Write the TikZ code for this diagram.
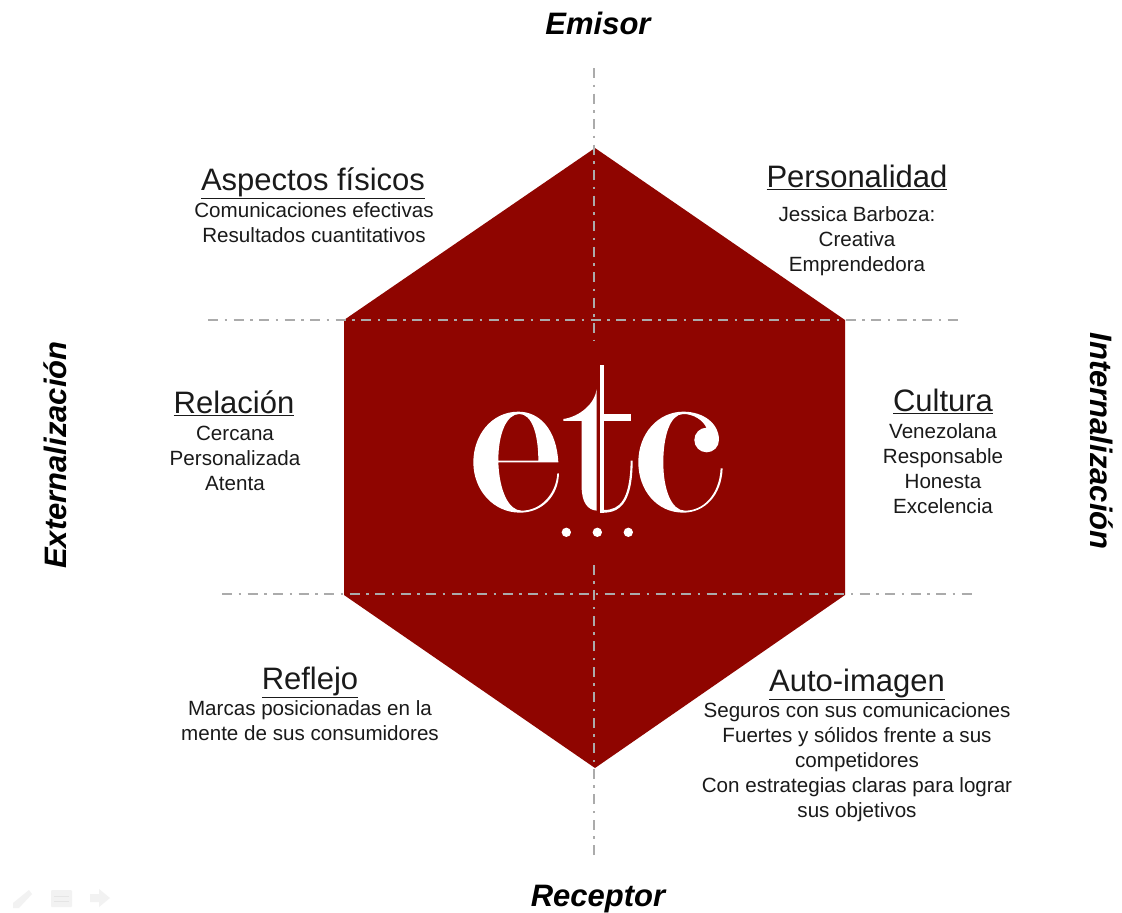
\documentclass[tikz,border=0pt]{standalone}
\usepackage{fontspec}
\setmainfont{Liberation Sans}
\definecolor{hexred}{HTML}{8F0500}
\definecolor{axisgrey}{HTML}{ABABAB}
\definecolor{bodytext}{HTML}{1A1A1A}
\tikzset{
  axis/.style={axisgrey,line width=1.7pt,dash pattern=on 10pt off 6.5pt on 2.5pt off 6.5pt},
  heading/.style={font=\fontsize{31}{34}\selectfont,text=bodytext,inner sep=0pt,anchor=base},
  body/.style={font=\fontsize{20.6}{25}\selectfont,text=bodytext,align=center,inner sep=0pt,anchor=north},
  pole/.style={font=\fontsize{31}{34}\selectfont\bfseries\itshape,text=black,inner sep=0pt},
  logo/.style={fill=white,draw=none},
  faint/.style={fill=black!5,draw=none}
}
\begin{document}
\begin{tikzpicture}[x=1pt,y=-1pt]
\useasboundingbox (0,0) rectangle (1122,913);
\fill[white] (0,0) rectangle (1122,913);
\coordinate (htop) at (595,148);
\coordinate (hur) at (845,320);
\coordinate (hlr) at (845,595);
\coordinate (hbot) at (595,768);
\coordinate (hll) at (344,595);
\coordinate (hul) at (344,320);
\fill[hexred] (htop) -- (hur) -- (hlr) -- (hbot) -- (hll) -- (hul) -- cycle;
\coordinate (vtop) at (594,68);
\coordinate (vgapa) at (594,341);
\coordinate (vgapb) at (594,563);
\coordinate (vbot) at (594,855);
\coordinate (u1) at (208,320);
\coordinate (u2) at (960,320);
\coordinate (l1) at (222,594);
\coordinate (l2) at (972,594);
\draw[axis] (vtop) -- (vgapa);
\draw[axis] (vbot) -- (vgapb);
\draw[axis] (u1) -- (u2);
\draw[axis] (l1) -- (l2);
% logo
\begin{scope}[shift={(440,340)},x=0.3333pt,y=-0.3333pt]
\fill[logo,even odd rule] (355,367) .. controls (350,270) and (300,215) .. (235,215) .. controls (155,215) and (100,285) .. (100,367) .. controls (100,450) and (160,518) .. (240,518) .. controls (305,518) and (355,470) .. (357,400) -- (352,400) .. controls (348,465) and (300,512) .. (245,512) .. controls (205,512) and (178,450) .. (175,367) -- cycle
 (175,362) -- (295,362) .. controls (295,280) and (275,222) .. (238,222) .. controls (200,222) and (175,280) .. (175,362) -- cycle;
\fill[logo] (470,148) .. controls (465,190) and (420,230) .. (370,237) -- (370,243) -- (425,243) -- (425,440) .. controls (425,490) and (445,510) .. (470,512) -- cycle;
\fill[logo] (480,75) rectangle (492,518);
\fill[logo] (492,222) rectangle (573,243);
\fill[logo] (492,510) .. controls (540,510) and (570,480) .. (572,362) -- (578,362) .. controls (578,470) and (550,518) .. (492,518) -- cycle;
\fill[logo] (848,385) .. controls (845,465) and (795,518) .. (730,518) .. controls (650,518) and (595,450) .. (595,367) .. controls (595,280) and (655,215) .. (730,215) .. controls (790,215) and (837,250) .. (837,300) -- (800,300) -- (800,265) .. controls (790,240) and (760,222) .. (730,222) .. controls (690,222) and (670,290) .. (670,367) .. controls (670,450) and (695,512) .. (735,512) .. controls (790,512) and (838,465) .. (842,385) -- cycle;
\fill[logo] (800,300) circle (37);
\fill[logo] (379,577) circle (14);
\fill[logo] (472,577) circle (14);
\fill[logo] (565,577) circle (14);
\end{scope}
% poles
\node[pole] (emisor) at (598,23) {Emisor};
\node[pole] (receptor) at (598,899) {Receptor};
\node[pole,rotate=90] (ext) at (55,455) {Externalización};
\node[pole,rotate=-90] (int) at (1102,441) {Internalización};
% headings and bodies
\node[heading] (h1) at (313,190) {\underline{Aspectos físicos}};
\node[body] (b1) at (314,202) {Comunicaciones efectivas\\Resultados cuantitativos};
\node[heading] (h2) at (857,187) {\underline{Personalidad}};
\node[body] (b2) at (857,206) {Jessica Barboza:\\Creativa\\Emprendedora};
\node[heading] (h3) at (234,413) {\underline{Relación}};
\node[body] (b3) at (235,426) {Cercana\\Personalizada\\Atenta};
\node[heading] (h4) at (943,411) {\underline{Cultura}};
\node[body] (b4) at (943,423) {Venezolana\\Responsable\\Honesta\\Excelencia};
\node[heading] (h5) at (310,689) {\underline{Reflejo}};
\node[body] (b5) at (310,700) {Marcas posicionadas en la\\mente de sus consumidores};
\node[heading] (h6) at (857,691) {\underline{Auto-imagen}};
\node[body] (b6) at (857,702) {Seguros con sus comunicaciones\\Fuertes y sólidos frente a sus\\competidores\\Con estrategias claras para lograr\\sus objetivos};
% faint slideshow controls
\fill[faint] (29,890) -- (13,903) -- (13,908) -- (19,908) -- (32,894) -- cycle;
\fill[faint,rounded corners=1pt] (51,890) rectangle (72,907);
\draw[black!10,line width=1pt] (54,896) -- (69,896) (54,901) -- (69,901);
\fill[faint] (90,894) -- (99,894) -- (99,889) -- (110,898) -- (99,907) -- (99,902) -- (90,902) -- cycle;
\end{tikzpicture}
\end{document}
